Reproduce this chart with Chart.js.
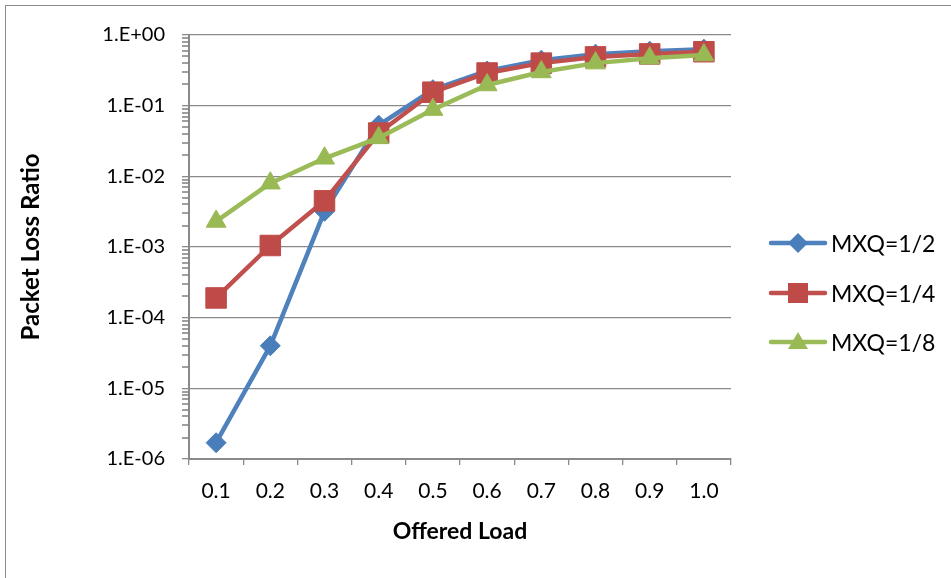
<!DOCTYPE html>
<html>
<head>
<meta charset="utf-8">
<script src="https://cdn.jsdelivr.net/npm/chart.js@4/dist/chart.umd.min.js"></script>
<style>
  html, body { margin: 0; padding: 0; background: #fff; overflow: hidden; }
  #wrap { position: relative; width: 951px; height: 578px; overflow: hidden; }
  #frame { position: absolute; left: 5px; top: 5px; width: 1000px; height: 700px; border: 1px solid #8c8c8c; box-sizing: border-box; }
  canvas { position: absolute; left: 0; top: 0; }
  #legend { position: absolute; left: 768px; top: 0; font-family: Lato, "DejaVu Sans", sans-serif; font-size: 23px; color: #000; }
  .item { position: absolute; left: 0; height: 30px; display: flex; align-items: center; white-space: nowrap; }
  .item svg { display: block; margin-right: 3px; }
</style>
</head>
<body>
<div id="wrap">
  <div id="frame"></div>
  <canvas id="c" width="951" height="578"></canvas>
  <div id="legend"></div>
</div>
<script>
// ---- data ----
const categories = ['0.1', '0.2', '0.3', '0.4', '0.5', '0.6', '0.7', '0.8', '0.9', '1.0'];
const seriesNames = ['MXQ=1/2', 'MXQ=1/4', 'MXQ=1/8'];
const mxqHalf    = [1.7e-6, 4.0e-5, 3.2e-3, 0.053, 0.168, 0.31, 0.44, 0.535, 0.59, 0.63];
const mxqQuarter = [1.9e-4, 1.05e-3, 4.5e-3, 0.041, 0.155, 0.29, 0.40, 0.49, 0.54, 0.58];
const mxqEighth  = [2.3e-3, 8.0e-3, 1.8e-2, 0.035, 0.088, 0.196, 0.30, 0.40, 0.47, 0.52];
const yMin = 1e-6;
const yMax = 1;
const xTitle = 'Offered Load';
const yTitle = 'Packet Loss Ratio';

// ---- styles ----
const lineColors   = ['#4F81BD', '#C0504D', '#9BBB59'];
const markerColors = ['#4A7EBB', '#BE4B48', '#98B954'];
const markerStyles = ['rectRot', 'rect', 'triangle'];
const markerRadius = [10, 14.5, 11.5];
const gridGray = '#8a8a8a';
const FONT = 'Lato, "DejaVu Sans", sans-serif';

function isMajor(v) {
  const e = Math.log10(v);
  return Math.abs(e - Math.round(e)) < 1e-9;
}
function fmtExp(v) {
  const e = Math.round(Math.log10(v));
  const a = Math.abs(e);
  return '1.E' + (e >= 0 ? '+' : '-') + (a < 10 ? '0' + a : '' + a);
}

// minor tick marks on the log axis, positioned through the y scale
const minorTicks = {
  id: 'minorTicks',
  afterDraw(chart) {
    const ys = chart.scales.y;
    const ctx = chart.ctx;
    const x0 = chart.chartArea.left;
    const e0 = Math.round(Math.log10(yMin));
    const e1 = Math.round(Math.log10(yMax));
    ctx.save();
    ctx.strokeStyle = '#7f7f7f';
    ctx.lineWidth = 1.5;
    for (let e = e0; e < e1; e++) {
      for (let k = 2; k <= 9; k++) {
        const py = Math.round(ys.getPixelForValue(k * Math.pow(10, e)));
        ctx.beginPath();
        ctx.moveTo(x0 - 7, py);
        ctx.lineTo(x0, py);
        ctx.stroke();
      }
    }
    ctx.restore();
  }
};

const allSeries = [mxqHalf, mxqQuarter, mxqEighth];
const datasets = allSeries.map((d, i) => ({
  label: seriesNames[i],
  data: d,
  borderColor: lineColors[i],
  backgroundColor: markerColors[i],
  borderWidth: 4.5,
  borderCapStyle: 'round',
  borderJoinStyle: 'round',
  pointStyle: markerStyles[i],
  pointRadius: markerRadius[i],
  pointHoverRadius: markerRadius[i],
  pointBackgroundColor: markerColors[i],
  pointBorderColor: markerColors[i],
  pointBorderWidth: 1,
  tension: 0,
  order: 3 - i,
  clip: false
}));

new Chart(document.getElementById('c'), {
  type: 'line',
  data: { labels: categories, datasets: datasets },
  plugins: [minorTicks],
  options: {
    responsive: false,
    animation: false,
    events: [],
    layout: { padding: { left: 0, top: 35, right: 220, bottom: 0 } },
    plugins: { legend: { display: false }, tooltip: { enabled: false } },
    scales: {
      x: {
        type: 'category',
        offset: true,
        grid: { offset: true, drawOnChartArea: false, drawTicks: true, tickLength: 6, tickColor: gridGray, lineWidth: 1.3 },
        border: { display: true, color: gridGray, width: 2 },
        ticks: { color: '#000', font: { family: FONT, size: 21 }, padding: 14, maxRotation: 0, autoSkip: false },
        title: { display: true, text: xTitle, color: '#000', font: { family: FONT, size: 23, weight: 'bold' }, padding: { top: 0, bottom: 33 } },
        afterFit: (s) => { s.height = 119; }
      },
      y: {
        type: 'logarithmic',
        min: yMin,
        max: yMax,
        grid: {
          drawTicks: true,
          tickLength: 7,
          color: (ctx) => (ctx.tick && isMajor(ctx.tick.value)) ? gridGray : 'rgba(0,0,0,0)',
          tickColor: (ctx) => (ctx.tick && isMajor(ctx.tick.value)) ? gridGray : 'rgba(0,0,0,0)',
          lineWidth: 1.3
        },
        border: { display: true, color: gridGray, width: 2 },
        ticks: {
          autoSkip: false,
          color: '#000',
          font: { family: FONT, size: 20 },
          padding: 17,
          callback: (v) => isMajor(v) ? fmtExp(v) : ''
        },
        title: { display: true, text: yTitle, color: '#000', font: { family: FONT, size: 24, weight: 'bold' }, padding: { top: 17, bottom: 0 } },
        afterFit: (s) => { s.width = 189; }
      }
    }
  }
});

// ---- legend (HTML) ----
const legendY = [243, 293, 342];
const legend = document.getElementById('legend');
seriesNames.forEach((name, i) => {
  const item = document.createElement('div');
  item.className = 'item';
  item.style.top = (legendY[i] - 15) + 'px';
  let marker = '';
  const cx = 30, cy = 15, c = markerColors[i];
  if (markerStyles[i] === 'rectRot') {
    marker = `<polygon points="${cx},${cy-10} ${cx+10},${cy} ${cx},${cy+10} ${cx-10},${cy}" fill="${c}"/>`;
  } else if (markerStyles[i] === 'rect') {
    marker = `<rect x="${cx-10}" y="${cy-10}" width="20" height="20" fill="${c}"/>`;
  } else {
    marker = `<polygon points="${cx},${cy-10} ${cx+10},${cy+7} ${cx-10},${cy+7}" fill="${c}"/>`;
  }
  item.innerHTML = `<svg width="60" height="30"><line x1="3" y1="15" x2="57" y2="15" stroke="${lineColors[i]}" stroke-width="4.5" stroke-linecap="round"/>${marker}</svg><span>${name}</span>`;
  legend.appendChild(item);
});
</script>
</body>
</html>
